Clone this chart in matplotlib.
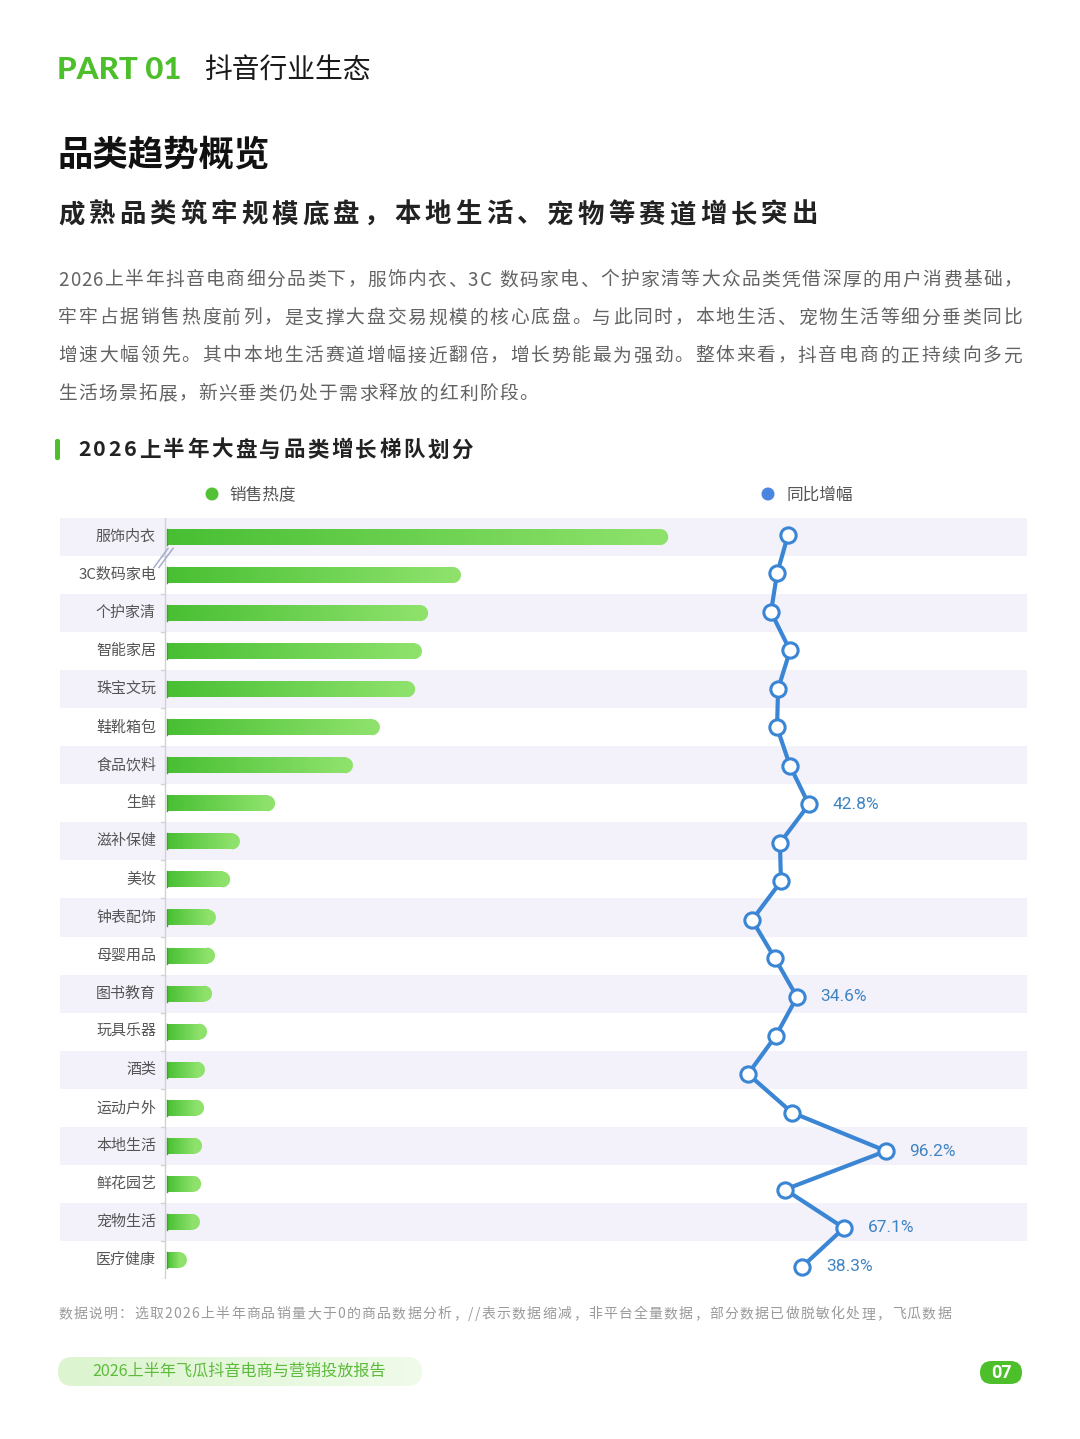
import numpy as np
import matplotlib.pyplot as plt
from matplotlib.colors import LinearSegmentedColormap
from matplotlib.patches import FancyBboxPatch, Polygon, Circle

plt.rcParams['font.family'] = ['Noto Sans CJK SC', 'DejaVu Sans']

# 数据
categories = ['服饰内衣', '3C数码家电', '个护家清', '智能家居', '珠宝文玩', '鞋靴箱包',
              '食品饮料', '生鲜', '滋补保健', '美妆', '钟表配饰', '母婴用品',
              '图书教育', '玩具乐器', '酒类', '运动户外', '本地生活', '鲜花园艺',
              '宠物生活', '医疗健康']
# 销售热度（以3C数码家电=100的相对指数，服饰内衣为缩减后的显示长度）
sales_heat = [170, 100, 88.9, 86.8, 84.5, 72.6, 63.5, 37.2, 25.3, 22.0,
              17.2, 16.9, 15.9, 14.2, 13.5, 13.2, 12.5, 12.2, 11.8, 7.4]
# 同比增幅 %
yoy_growth = [28.4, 20.8, 16.6, 29.8, 21.5, 20.8, 29.8, 42.8, 22.8, 23.5,
              3.5, 19.4, 34.6, 20.1, 0.7, 31.1, 96.2, 26.3, 67.1, 38.3]
labeled = ['生鲜', '图书教育', '本地生活', '宠物生活', '医疗健康']

W, H = 1080, 1439
fig = plt.figure(figsize=(W / 100, H / 100), dpi=100)
fig.patch.set_facecolor('white')

# 背景层（像素坐标，用于装饰和文字）
bg = fig.add_axes([0, 0, 1, 1])
bg.set_xlim(0, W)
bg.set_ylim(H, 0)
bg.axis('off')
renderer = fig.canvas.get_renderer()


def spaced(s, x0, y, size, color, weight='normal', x1=None, track=0.0, family=None):
    fam = family or ['Noto Sans CJK SC', 'DejaVu Sans']
    widths = []
    for ch in s:
        if ch == ' ':
            widths.append(size * 0.35)
            continue
        t = bg.text(0, 0, ch, fontsize=size, weight=weight, family=fam)
        widths.append(t.get_window_extent(renderer).width)
        t.remove()
    gap = track
    if x1 is not None and len(s) > 1:
        gap = (x1 - x0 - sum(widths)) / (len(s) - 1)
    x = x0
    for ch, w in zip(s, widths):
        if ch != ' ':
            bg.text(x, y, ch, fontsize=size, weight=weight, family=fam,
                    color=color, ha='left', va='center')
        x += w + gap


# 页眉
bg.text(57, 70, 'PART 01', fontsize=22.5, weight='black', color='#4cbf2a',
        family=['Lato', 'DejaVu Sans'], ha='left', va='center')
bg.text(204, 70, '抖音行业生态', fontsize=20, weight='medium', color='#1a1a1a',
        ha='left', va='center')
bg.text(58, 155, '品类趋势概览', fontsize=25.5, weight='black', color='#111111',
        ha='left', va='center')
spaced('成熟品类筑牢规模底盘，本地生活、宠物等赛道增长突出', 58, 215, 19,
       '#222222', weight='bold', x1=818)

body = ['2026上半年抖音电商细分品类下，服饰内衣、3C 数码家电、个护家清等大众品类凭借深厚的用户消费基础，',
        '牢牢占据销售热度前列，是支撑大盘交易规模的核心底盘。与此同时，本地生活、宠物生活等细分垂类同比',
        '增速大幅领先。其中本地生活赛道增幅接近翻倍，增长势能最为强劲。整体来看，抖音电商的正持续向多元',
        '生活场景拓展，新兴垂类仍处于需求释放的红利阶段。']
for k, line in enumerate(body):
    yy = 280 + 38 * k
    if k < 3:
        spaced(line, 58, yy, 13.5, '#636363', x1=1022)
    else:
        spaced(line, 58, yy, 13.5, '#636363', track=1.3)

# 图表标题
bg.add_patch(FancyBboxPatch((55, 439), 5, 21, boxstyle='round,pad=0,rounding_size=2',
                            fc='#4cbf2a', ec='none'))
spaced('2026上半年大盘与品类增长梯队划分', 78, 450, 15.5, '#222222', weight='bold', x1=473)

# 图例
bg.add_patch(Circle((212, 494), 6.5, fc='#52c234', ec='none'))
bg.text(229, 495, '销售热度', fontsize=12, color='#555555', ha='left', va='center')
bg.add_patch(Circle((768, 494), 6.5, fc='#4a86e0', ec='none'))
bg.text(786, 495, '同比增幅', fontsize=12, color='#555555', ha='left', va='center')

# 数据说明
spaced('数据说明：选取2026上半年商品销量大于0的商品数据分析，//表示数据缩减，非平台全量数据，部分数据已做脱敏化处理，飞瓜数据',
       58, 1314, 10, '#9a9a9a', x1=951)

# 页脚
pill = FancyBboxPatch((58, 1357), 364, 29, boxstyle='round,pad=0,rounding_size=14.5',
                      fc='none', ec='none')
bg.add_patch(pill)
pill_cm = LinearSegmentedColormap.from_list('pill', ['#dcf4cf', '#f0fbea'])
im = bg.imshow(np.linspace(0, 1, 256).reshape(1, -1), cmap=pill_cm, aspect='auto',
               extent=(58, 422, 1386, 1357), zorder=1)
im.set_clip_path(pill)
bg.text(239, 1371, '2026上半年飞瓜抖音电商与营销投放报告', fontsize=11.6, color='#5dbb3c',
        ha='center', va='center', zorder=2)
bg.add_patch(FancyBboxPatch((980, 1361), 42, 23, boxstyle='round,pad=0,rounding_size=11.5',
                            fc='#4cbf2a', ec='none'))
bg.text(1001, 1373, '07', fontsize=13, weight='bold', color='white',
        family=['Roboto', 'DejaVu Sans'], ha='center', va='center')
bg.set_xlim(0, W)
bg.set_ylim(H, 0)

# 主图：销售热度条形
ax_l, ax_r, ax_t, ax_b = 60, 1027, 518, 1279
rect = [ax_l / W, 1 - ax_b / H, (ax_r - ax_l) / W, (ax_b - ax_t) / H]
ax = fig.add_axes(rect)
ax.patch.set_alpha(0)
zero_px, ppu = 165, 2.96          # 轴线位置与每单位像素
row0_px, row_px = 537, 38.05
n = len(categories)

for i in range(0, n, 2):
    ax.axhspan(i - 0.5, i + 0.5, color='#f3f1fa', zorder=0, lw=0)

ax.plot([0, 0], [-0.5, n - 0.5], color='#d2d2d2', lw=1, zorder=2)
for i in range(n):
    ax.plot([-4 / ppu, 0], [i + 0.5, i + 0.5], color='#d2d2d2', lw=1, zorder=2)
    ax.text(-9 / ppu, i, categories[i], ha='right', va='center', fontsize=10.8,
            color='#555555')

bar_cm = LinearSegmentedColormap.from_list('bar', ['#48bf33', '#8ee26c'])
end_col = bar_cm(1.0)
bh = 16 / row_px
r_x = 8 / ppu
x_start = 2 / ppu
t = np.linspace(-np.pi / 2, np.pi / 2, 40)
for i, v in enumerate(sales_heat):
    cx = v - r_x
    # 渐变主体
    ax.imshow(np.linspace(0, 1, 256).reshape(1, -1), cmap=bar_cm, aspect='auto',
              extent=(x_start, cx + 0.05, i + bh / 2, i - bh / 2), zorder=3,
              interpolation='bilinear')
    # 圆角端
    arc = np.column_stack([cx + r_x * np.cos(t), i + bh / 2 * np.sin(t)])
    ax.add_patch(Polygon(arc, closed=True, fc=end_col, ec='none', zorder=3))
    # 条形起始处的细边
    ax.plot([x_start, x_start], [i - bh / 2, i + bh / 2], color='#3aa52a', lw=1, zorder=4)

# 截断标记 //
for dx in (0, 5):
    ax.plot([(-11 + dx) / ppu, (3 + dx) / ppu], [0.8, 0.3], color='#a3accb', lw=1.1, zorder=4)

ax.set_xlim(-(zero_px - ax_l) / ppu, (ax_r - zero_px) / ppu)
ax.set_ylim((ax_b - row0_px) / row_px, (ax_t - row0_px) / row_px)
ax.axis('off')

# 同比增幅折线
ax2 = fig.add_axes(rect)
ax2.patch.set_alpha(0)
g0_px, gpp = 747, 1.445
m0_px, m_row = 535, 38.5
rows = np.arange(n)
ax2.plot(yoy_growth, rows, color='#3b86d4', lw=3, marker='o', ms=11, mfc='white',
         mec='#3b86d4', mew=2.2, zorder=5, solid_joinstyle='round')
for i, (c, g) in enumerate(zip(categories, yoy_growth)):
    if c in labeled:
        ax2.annotate(f'{g:.1f}%', (g, i), xytext=(17, 0), textcoords='offset points',
                     ha='left', va='center', fontsize=12.5, color='#3f84c2',
                     family=['Roboto', 'DejaVu Sans'])
ax2.set_xlim((ax_l - g0_px) / gpp, (ax_r - g0_px) / gpp)
ax2.set_ylim((ax_b - m0_px) / m_row, (ax_t - m0_px) / m_row)
ax2.axis('off')

fig.savefig('out.png', dpi=100)
